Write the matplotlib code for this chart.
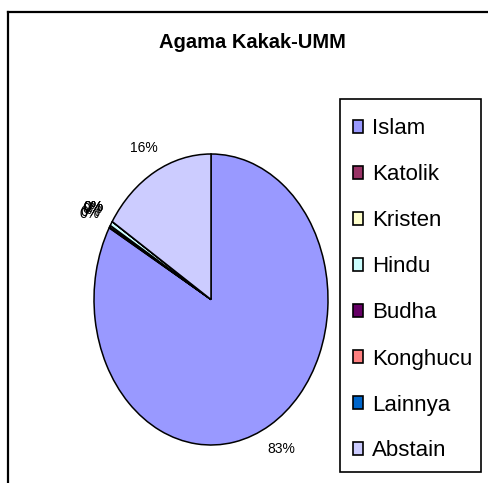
import matplotlib
matplotlib.use("Agg")
import matplotlib.pyplot as plt
from matplotlib.patches import Patch, Rectangle
from matplotlib.lines import Line2D

plt.rcParams['font.family'] = ['Liberation Sans', 'DejaVu Sans']

# data
agama = ['Islam', 'Katolik', 'Kristen', 'Hindu', 'Budha', 'Konghucu', 'Lainnya', 'Abstain']
persen = [83.2, 0.1, 0.2, 0.5, 0.0, 0.0, 0.0, 16.0]
warna = ['#9999FF', '#993366', '#FFFFCC', '#CCFFFF', '#660066', '#FF8080', '#0066CC', '#CCCCFF']

W, H = 488, 483
fig = plt.figure(figsize=(W / 100, H / 100), dpi=100)

# outer chart frame (only top and left edges visible)
fig.add_artist(Line2D([8 / W, 8 / W], [0, 1 - 12 / H], transform=fig.transFigure,
                      color='black', lw=1.6))
fig.add_artist(Line2D([8 / W, 1], [1 - 12 / H, 1 - 12 / H], transform=fig.transFigure,
                      color='black', lw=1.6))

fig.text(252 / W, 1 - 43 / H, 'Agama Kakak-UMM', ha='center', va='center',
         fontsize=14.5, fontweight='bold')

# pie is drawn as an ellipse (Excel stretches it)
ax = fig.add_axes([94 / W, 1 - 445 / H, 234 / W, 291 / H])
labels = ['%.0f%%' % p for p in persen]
wedges, texts = ax.pie(persen, labels=labels, colors=warna, startangle=90,
                       counterclock=False, labeldistance=1.19,
                       wedgeprops=dict(edgecolor='black', linewidth=1.1),
                       textprops=dict(fontsize=10))
for t in texts:
    t.set_ha('center')
    t.set_va('center')
ax.set_aspect('auto')
ax.set_xlim(-1, 1)
ax.set_ylim(-1, 1)
ax.axis('off')

# legend box
fig.add_artist(Rectangle((340 / W, 1 - 472 / H), 141 / W, 373 / H,
                         transform=fig.transFigure, facecolor='white',
                         edgecolor='black', lw=1.2))
handles = [Patch(facecolor=c, edgecolor='black', linewidth=1.2) for c in warna]
leg = fig.legend(handles, agama, loc='upper left',
                 bbox_to_anchor=(353 / W, 1 - 118.5 / H), borderaxespad=0,
                 fontsize=16, frameon=False,
                 handlelength=0.45, handleheight=0.55, handletextpad=0.42,
                 labelspacing=1.125, borderpad=0)

fig.savefig('out.png', dpi=100)
